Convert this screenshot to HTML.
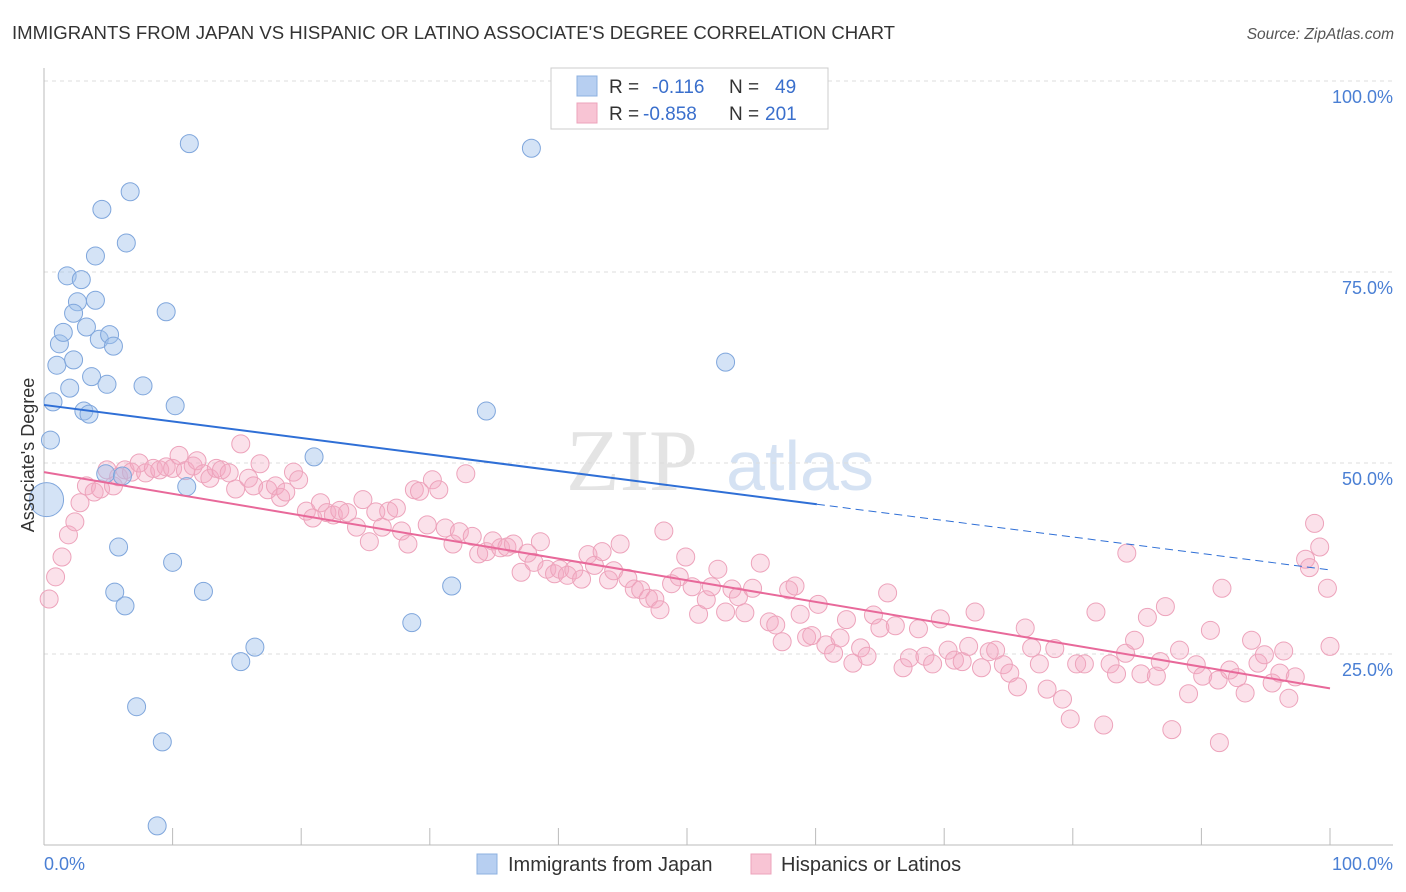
<!DOCTYPE html>
<html><head><meta charset="utf-8"><style>
body{margin:0;background:#fff;font-family:"Liberation Sans",sans-serif}
svg{display:block}
</style></head><body>
<svg id="chart" width="1406" height="892" xmlns="http://www.w3.org/2000/svg">
<text x="12" y="39" font-size="18" fill="#333" textLength="883" lengthAdjust="spacingAndGlyphs">IMMIGRANTS FROM JAPAN VS HISPANIC OR LATINO ASSOCIATE'S DEGREE CORRELATION CHART</text>
<text x="1394" y="39" font-size="15.5" fill="#555" font-style="italic" text-anchor="end">Source: ZipAtlas.com</text>
<g><text x="632" y="490" font-size="88" fill="#e4e4e4" font-family="Liberation Serif,serif" text-anchor="middle">ZIP</text><text x="800" y="490" font-size="70" fill="#d5e2f3" text-anchor="middle">atlas</text></g>
<g id="grid"></g>
<g id="axes"></g>
<g id="marks"></g>
<text transform="translate(34,455) rotate(-90)" font-size="18" fill="#333" text-anchor="middle">Associate's Degree</text>
<g>
<rect x="551" y="68" width="277" height="61" fill="#fff" stroke="#ccc"/>
<rect x="577" y="76" width="20" height="20" fill="#b7cff1" stroke="#8cb0e0"/>
<rect x="577" y="103" width="20" height="20" fill="#f8c4d4" stroke="#eda3bb"/>
<text x="609" y="93" font-size="19" fill="#333">R = <tspan fill="#3a6fcc" x="652">-0.116</tspan><tspan fill="#333" x="729">N =</tspan><tspan fill="#3a6fcc" x="775">49</tspan></text>
<text x="609" y="120" font-size="19" fill="#333">R = <tspan fill="#3a6fcc" x="643">-0.858</tspan><tspan fill="#333" x="729">N =</tspan><tspan fill="#3a6fcc" x="765">201</tspan></text>
</g>
<g>
<rect x="477" y="854" width="20" height="20" fill="#b7cff1" stroke="#8cb0e0"/>
<text x="508" y="871" font-size="20" fill="#333">Immigrants from Japan</text>
<rect x="751" y="854" width="20" height="20" fill="#f8c4d4" stroke="#eda3bb"/>
<text x="781" y="871" font-size="20" fill="#333">Hispanics or Latinos</text>
</g>
</svg>
<script>
const yTicks=[25,50,75,100];
const yTickLabels=["25.0%","50.0%","75.0%","100.0%"];
const xTicks=[0,10,20,30,40,50,60,70,80,90,100];
const blueX=[0.2,0.5,0.7,1.0,1.2,1.5,2.0,2.3,1.8,2.9,2.6,2.3,4.0,4.0,3.3,4.3,5.1,5.4,3.7,4.9,3.1,3.5,4.5,6.7,6.4,11.3,9.5,7.7,10.2,4.8,6.1,11.1,5.8,5.5,6.3,10.0,12.4,16.4,15.3,7.2,9.2,8.8,37.9,53.0,34.4,21.0,31.7,28.6];
const blueY=[45.2,53.0,58.0,62.8,65.6,67.1,59.8,63.5,74.5,74.0,71.1,69.6,77.1,71.3,67.8,66.2,66.8,65.3,61.3,60.3,56.8,56.4,83.2,85.5,78.8,91.8,69.8,60.1,57.5,48.6,48.3,46.9,39.0,33.1,31.3,37.0,33.2,25.9,24.0,18.1,13.5,2.5,91.2,63.2,56.8,50.8,33.9,29.1];
const pinkX=[0.4,0.9,1.4,1.9,2.4,2.8,3.3,3.9,4.4,4.9,5.4,5.8,6.3,6.8,7.4,7.9,8.5,9.0,9.5,10.0,10.5,11.0,11.6,11.9,12.4,12.9,13.4,13.8,14.4,14.9,15.3,15.9,16.3,16.8,17.4,18.0,18.4,18.8,19.4,19.8,20.4,20.9,21.5,22.0,22.5,23.0,23.6,24.3,24.8,25.3,25.8,26.3,26.8,27.4,27.8,28.3,28.8,29.2,29.8,30.2,30.7,31.2,31.8,32.3,32.8,33.3,33.8,34.4,34.9,35.5,36.0,36.5,37.1,37.6,38.1,38.6,39.1,39.7,40.1,40.7,41.2,41.8,42.3,42.8,43.4,43.9,44.3,44.8,45.4,45.9,46.4,47.0,47.5,47.9,48.2,48.8,49.4,49.9,50.4,50.9,51.5,51.9,52.4,53.0,53.5,54.0,54.5,55.1,55.7,56.4,56.9,57.4,57.9,58.4,58.8,59.3,59.7,60.2,60.8,61.4,61.9,62.4,62.9,63.5,64.0,64.5,65.0,65.6,66.2,66.8,67.3,68.0,68.5,69.1,69.7,70.3,70.8,71.4,71.9,72.4,72.9,73.5,74.0,74.6,75.1,75.7,76.3,76.8,77.4,78.0,78.6,79.2,79.8,80.3,80.9,81.8,82.4,82.9,83.4,84.1,84.2,84.8,85.3,85.8,86.5,86.8,87.2,87.7,88.3,89.0,89.6,90.1,90.7,91.3,91.6,91.4,92.2,92.8,93.4,93.9,94.4,94.9,95.5,96.1,96.8,97.3,98.1,98.4,98.8,99.2,99.8,100.0,96.4];
const pinkY=[32.2,35.1,37.7,40.6,42.3,44.8,47.0,46.2,46.6,49.1,47.0,48.2,49.1,48.8,50.0,48.7,49.3,49.1,49.5,49.3,51.0,49.0,49.6,50.3,48.6,48.0,49.3,49.1,48.7,46.6,52.5,48.0,47.0,49.9,46.5,47.0,45.5,46.2,48.8,47.8,43.7,42.8,44.8,43.5,43.2,43.8,43.5,41.6,45.2,39.7,43.6,41.6,43.7,44.1,41.1,39.4,46.5,46.3,41.9,47.8,46.5,41.5,39.4,41.0,48.6,40.4,38.1,38.4,39.8,38.9,39.0,39.4,35.7,38.2,37.0,39.7,36.1,35.5,36.1,35.3,36.0,34.8,38.0,36.6,38.4,34.7,35.9,39.4,34.9,33.5,33.4,32.3,32.2,30.8,41.1,34.2,35.1,37.7,33.8,30.2,32.1,33.8,36.1,30.5,33.5,32.5,30.4,33.6,36.9,29.2,28.8,26.6,33.4,33.9,30.2,27.2,27.4,31.5,26.2,25.1,27.1,29.5,23.8,25.8,24.7,30.1,28.4,33.0,28.7,23.2,24.5,28.3,24.7,23.7,29.6,25.5,24.2,24.0,26.0,30.5,23.2,25.3,25.5,23.6,22.5,20.7,28.4,25.8,23.7,20.4,25.7,19.1,16.5,23.7,23.7,30.5,15.7,23.7,22.4,25.1,38.2,26.8,22.4,29.8,22.1,24.0,31.2,15.1,25.5,19.8,23.6,22.1,28.1,21.6,33.6,13.4,22.9,21.9,19.9,26.8,23.8,24.9,21.2,22.5,19.2,22.0,37.4,36.3,42.1,39.0,33.6,26.0,25.4];
const blueTrend=[57.6,44.6,36.0];
const blueTrendX=[0,60.1,100];
const pinkTrend=[48.8,20.5];
const pinkTrendX=[0,100];
const NS="http://www.w3.org/2000/svg";
function sx(v){return 44+v*12.86;}
function sy(v){return 845-v*7.64;}
function mk(tag,attrs,parent){const e=document.createElementNS(NS,tag);for(const k in attrs)e.setAttribute(k,attrs[k]);parent.appendChild(e);return e;}
const grid=document.getElementById('grid'),axes=document.getElementById('axes'),marks=document.getElementById('marks');
yTicks.forEach((t,i)=>{
 const l=mk('line',{x1:44,x2:1393,y1:sy(t),y2:sy(t),stroke:'#ddd','stroke-dasharray':'4,4'},grid);
 
 
 const tx=mk('text',{x:1393,y:sy(t)+22,'font-size':18,fill:'#4a7fd4','text-anchor':'end'},axes);
 tx.textContent=yTickLabels[i];
 
 
});
const ax=mk('line',{x1:44,x2:44,y1:68,y2:845,stroke:'#bbb'},axes);


const bx=mk('line',{x1:44,x2:1393,y1:845,y2:845,stroke:'#bbb'},axes);


xTicks.forEach(t=>{
 const l=mk('line',{x1:sx(t),x2:sx(t),y1:828,y2:845,stroke:'#bbb'},axes);
 
 
});
const x0=mk('text',{x:44,y:870,'font-size':18,fill:'#4a7fd4'},axes);x0.textContent='0.0%';


const x1=mk('text',{x:1393,y:870,'font-size':18,fill:'#4a7fd4','text-anchor':'end'},axes);x1.textContent='100.0%';


pinkX.forEach((v,i)=>{
 const c=mk('circle',{cx:sx(v),cy:sy(pinkY[i]),r:9,fill:'rgba(244,170,195,0.35)',stroke:'#eda3bb','stroke-width':1},marks);
 
 
});
blueX.forEach((v,i)=>{
 const c=mk('circle',{cx:sx(v),cy:sy(blueY[i]),r:i===0?17:9,fill:'rgba(160,192,236,0.45)',stroke:'#7fa6dc','stroke-width':1},marks);
 
 
});
const bt=mk('line',{x1:sx(blueTrendX[0]),y1:sy(blueTrend[0]),x2:sx(blueTrendX[1]),y2:sy(blueTrend[1]),stroke:'#2f6fd6','stroke-width':2},marks);


const bd=mk('line',{x1:sx(blueTrendX[1]),y1:sy(blueTrend[1]),x2:sx(blueTrendX[2]),y2:sy(blueTrend[2]),stroke:'#2f6fd6','stroke-width':1,'stroke-dasharray':'8,5'},marks);


const pt=mk('line',{x1:sx(pinkTrendX[0]),y1:sy(pinkTrend[0]),x2:sx(pinkTrendX[1]),y2:sy(pinkTrend[1]),stroke:'#e8699a','stroke-width':2},marks);


</script>
</body></html>
